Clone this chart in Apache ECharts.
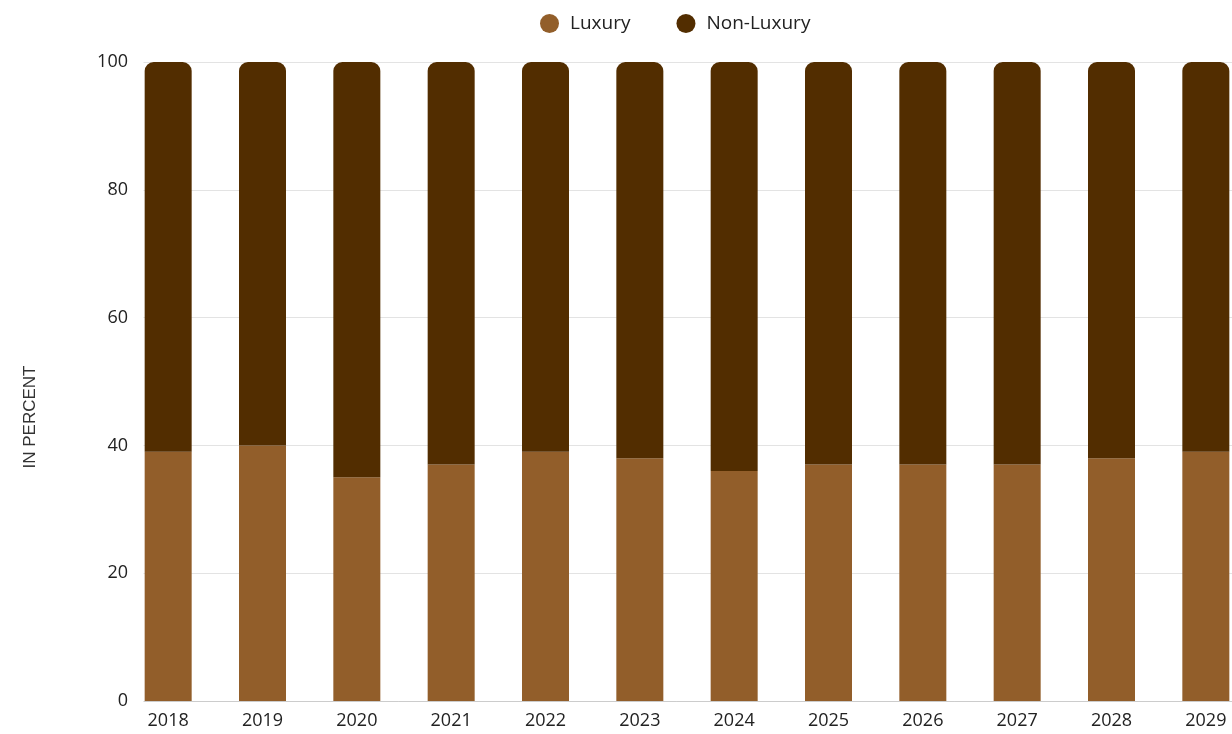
<!DOCTYPE html>
<html>
<head>
<meta charset="utf-8">
<script src="https://cdn.jsdelivr.net/npm/echarts@6/dist/echarts.min.js"></script>
<style>
html,body{margin:0;padding:0;background:#fff;}
#chart{width:1232px;height:734px;}
</style>
</head>
<body>
<div id="chart"></div>
<script>
const categories = ['2018','2019','2020','2021','2022','2023','2024','2025','2026','2027','2028','2029'];
const luxury = [39, 40, 35, 37, 39, 38, 36, 37, 37, 37, 38, 39];
const nonLuxury = [61, 60, 65, 63, 61, 62, 64, 63, 63, 63, 62, 61];
const yTicks = [0, 20, 40, 60, 80, 100];

const FONT = 'Open Sans';
const chart = echarts.init(document.getElementById('chart'));
chart.setOption({
  animation: false,
  textStyle: { fontFamily: FONT },
  legend: {
    top: 9,
    left: 535,
    icon: 'circle',
    itemWidth: 19,
    itemHeight: 19,
    itemGap: 46,
    textStyle: { fontSize: 19, color: '#222', fontFamily: FONT, padding: [0, 0, 0, 6] },
    data: ['Luxury', 'Non-Luxury']
  },
  grid: { outerBoundsMode: 'none', left: 121, top: 62, bottom: 33, width: 1132, containLabel: false },
  xAxis: {
    type: 'category',
    data: categories,
    axisLine: { lineStyle: { color: '#ccc' } },
    axisTick: { show: false },
    axisLabel: { fontSize: 18, color: '#222', margin: 11, fontFamily: FONT, interval: 0 }
  },
  yAxis: [{
    type: 'value',
    min: yTicks[0], max: yTicks[yTicks.length - 1], interval: 20,
    axisLabel: { show: false },
    axisLine: { show: false },
    axisTick: { show: false },
    splitLine: { lineStyle: { color: '#e3e3e3' } }
  }, {
    type: 'value',
    position: 'left',
    offset: -23,
    z: 10,
    min: yTicks[0], max: yTicks[yTicks.length - 1], interval: 20,
    axisLabel: { fontSize: 18, color: '#222', margin: 16, fontFamily: FONT },
    axisLine: { show: false },
    axisTick: { show: false },
    splitLine: { show: false }
  }],
  graphic: [{
    type: 'rect',
    z: 5,
    shape: { x: 115, y: 50, width: 28.5, height: 660 },
    style: { fill: '#fff' }
  }, {
    type: 'text',
    z: 10,
    x: 30, y: 417,
    rotation: Math.PI / 2,
    style: { text: 'IN PERCENT', fontSize: 17, fill: '#333', fontFamily: 'Liberation Sans', align: 'center', verticalAlign: 'middle' }
  }],
  series: [{
    name: 'Luxury',
    type: 'bar',
    stack: 'total',
    barWidth: 47,
    data: luxury,
    itemStyle: { color: '#925E2A' }
  }, {
    name: 'Non-Luxury',
    type: 'bar',
    stack: 'total',
    barWidth: 47,
    data: nonLuxury,
    itemStyle: { color: '#522D00', borderRadius: [9, 9, 0, 0] }
  }]
});
</script>
</body>
</html>
